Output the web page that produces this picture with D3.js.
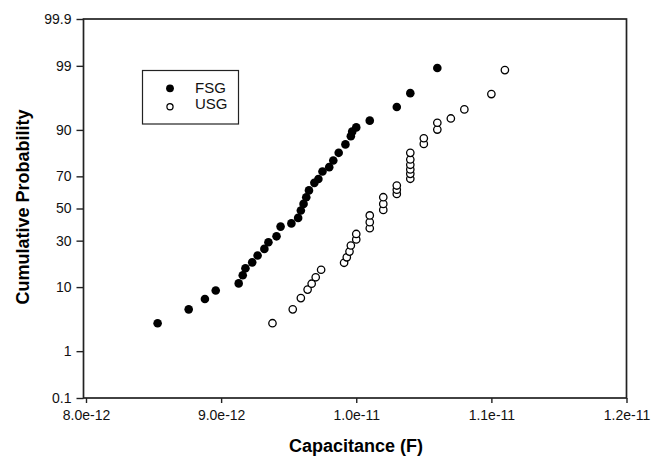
<!DOCTYPE html>
<html>
<head>
<meta charset="utf-8">
<script src="https://cdn.jsdelivr.net/npm/d3@7"></script>
<style>
  body { margin: 0; background: #fff; }
  svg { font-family: "Liberation Sans", Arial, sans-serif; }
</style>
</head>
<body>
<div id="chart"></div>
<script>
// capacitance (F) and cumulative probability (%)
const fsgCap = [8.53e-12, 8.76e-12, 8.88e-12, 8.96e-12, 9.13e-12, 9.16e-12, 9.18e-12, 9.23e-12, 9.27e-12,
  9.32e-12, 9.35e-12, 9.41e-12, 9.44e-12, 9.52e-12, 9.57e-12, 9.59e-12, 9.61e-12, 9.63e-12, 9.65e-12,
  9.69e-12, 9.72e-12, 9.75e-12, 9.80e-12, 9.83e-12, 9.87e-12, 9.92e-12, 9.96e-12, 9.97e-12, 1.00e-11,
  1.01e-11, 1.03e-11, 1.04e-11, 1.06e-11];
const fsgProb = [3.07, 5.0, 7.0, 9.05, 11.1, 13.8, 16.5, 19.0, 22.2,
  25.5, 29.1, 32.5, 38.4, 40.4, 43.9, 48.7, 53.0, 57.3, 61.6,
  66.2, 68.5, 72.7, 75.0, 78.3, 81.8, 85.2, 88.1, 89.5, 90.7,
  92.4, 95.1, 97.0, 98.9];

const usgCap = [9.38e-12, 9.53e-12, 9.59e-12, 9.64e-12, 9.67e-12, 9.70e-12, 9.74e-12,
  9.91e-12, 9.93e-12, 9.95e-12, 9.96e-12, 1.00e-11, 1.00e-11,
  1.01e-11, 1.01e-11, 1.01e-11, 1.02e-11, 1.02e-11, 1.02e-11, 1.03e-11, 1.03e-11, 1.03e-11,
  1.04e-11, 1.04e-11, 1.04e-11, 1.04e-11, 1.04e-11, 1.04e-11,
  1.05e-11, 1.05e-11, 1.06e-11, 1.06e-11, 1.07e-11, 1.08e-11, 1.10e-11, 1.11e-11];
const usgProb = [3.07, 5.0, 7.2, 9.3, 11.0, 13.1, 15.9,
  18.8, 21.3, 24.1, 27.3, 30.7, 33.9,
  37.4, 41.2, 45.5, 49.1, 53.0, 57.3, 59.4, 62.0, 64.6,
  68.6, 71.4, 73.8, 76.2, 78.8, 81.8,
  85.4, 87.4, 90.1, 91.9, 92.9, 94.7, 96.9, 98.8];

const yTicks = [0.1, 1, 10, 30, 50, 70, 90, 99, 99.9];
const yTickLabels = ["0.1", "1", "10", "30", "50", "70", "90", "99", "99.9"];
const xTicks = [8e-12, 9e-12, 1e-11, 1.1e-11, 1.2e-11];
const xTickLabels = ["8.0e-12", "9.0e-12", "1.0e-11", "1.1e-11", "1.2e-11"];

const W = 664, H = 457;
const plotL = 83.5, plotR = 626.5, plotT = 19, plotB = 398;

// inverse normal CDF (Acklam) for the probability axis
function probit(p) {
  const a = [-39.69683028665376, 220.9460984245205, -275.9285104469687, 138.3577518672690, -30.66479806614716, 2.506628277459239];
  const b = [-54.47609879822406, 161.5858368580409, -155.6989798598866, 66.80131188771972, -13.28068155288572];
  const c = [-0.007784894002430293, -0.3223964580411365, -2.400758277161838, -2.549732539343734, 4.374664141464968, 2.938163982698783];
  const d = [0.007784695709041462, 0.3224671290700398, 2.445134137142996, 3.754408661907416];
  const pl = 0.02425;
  let q, r;
  if (p < pl) {
    q = Math.sqrt(-2 * Math.log(p));
    return (((((c[0]*q+c[1])*q+c[2])*q+c[3])*q+c[4])*q+c[5]) / ((((d[0]*q+d[1])*q+d[2])*q+d[3])*q+1);
  }
  if (p > 1 - pl) {
    q = Math.sqrt(-2 * Math.log(1 - p));
    return -(((((c[0]*q+c[1])*q+c[2])*q+c[3])*q+c[4])*q+c[5]) / ((((d[0]*q+d[1])*q+d[2])*q+d[3])*q+1);
  }
  q = p - 0.5; r = q * q;
  return (((((a[0]*r+a[1])*r+a[2])*r+a[3])*r+a[4])*r+a[5])*q / (((((b[0]*r+b[1])*r+b[2])*r+b[3])*r+b[4])*r+1);
}

const svg = d3.select("#chart").append("svg")
  .attr("width", W).attr("height", H);

const x = d3.scaleLinear().domain([8e-12, 1.2e-11]).range([86, plotR]);
const z = d3.scaleLinear().domain([probit(0.001), probit(0.999)]).range([plotB, plotT]);
const y = v => z(probit(v / 100));

// axes
const yAxis = svg.append("g")
  .attr("transform", `translate(${plotL},0)`)
  .call(d3.axisLeft(z)
    .tickValues(yTicks.map(v => probit(v / 100)))
    .tickFormat((d, i) => yTickLabels[i])
    .tickSize(7).tickPadding(5).tickSizeOuter(0));

const xAxis = svg.append("g")
  .attr("transform", `translate(0,${plotB})`)
  .call(d3.axisBottom(x)
    .tickValues(xTicks)
    .tickFormat((d, i) => xTickLabels[i])
    .tickSize(5).tickPadding(7).tickSizeOuter(0));

[yAxis, xAxis].forEach(g => {
  g.select(".domain").remove();
  g.selectAll(".tick line").attr("stroke", "#222").attr("stroke-width", 1.4);
  g.selectAll(".tick text").attr("fill", "#111")
    .style("font-family", "'Liberation Sans', Arial, sans-serif").style("font-size", "14px");
});

// frame
svg.append("rect")
  .attr("x", plotL).attr("y", plotT)
  .attr("width", plotR - plotL).attr("height", plotB - plotT)
  .attr("fill", "none").attr("stroke", "#222").attr("stroke-width", 1.7);

// points
const fsg = fsgCap.map((c, i) => ({ c, p: fsgProb[i] }));
const usg = usgCap.map((c, i) => ({ c, p: usgProb[i] }));

svg.append("g").selectAll("circle").data(usg).enter()
  .append("circle")
  .attr("cx", d => x(d.c)).attr("cy", d => y(d.p)).attr("r", 3.7)
  .attr("fill", "#fff").attr("stroke", "#000").attr("stroke-width", 1.3);

svg.append("g").selectAll("circle").data(fsg).enter()
  .append("circle")
  .attr("cx", d => x(d.c)).attr("cy", d => y(d.p)).attr("r", 4.3)
  .attr("fill", "#000");

// legend
const lg = svg.append("g");
lg.append("rect").attr("x", 142.5).attr("y", 70.5).attr("width", 96).attr("height", 53.5)
  .attr("fill", "#fff").attr("stroke", "#222").attr("stroke-width", 1.2);
lg.append("circle").attr("cx", 170).attr("cy", 88.3).attr("r", 3.9).attr("fill", "#000");
lg.append("circle").attr("cx", 170).attr("cy", 106.7).attr("r", 3.1)
  .attr("fill", "#fff").attr("stroke", "#000").attr("stroke-width", 1.2);
lg.append("text").attr("x", 195).attr("y", 92.7).text("FSG")
  .style("font-size", "15px").attr("fill", "#111");
lg.append("text").attr("x", 195).attr("y", 109.3).text("USG")
  .style("font-size", "15px").attr("fill", "#111");

// titles
svg.append("text")
  .attr("x", 356).attr("y", 452)
  .attr("text-anchor", "middle")
  .style("font-size", "18px").style("font-weight", "bold")
  .text("Capacitance (F)");

svg.append("text")
  .attr("transform", "translate(28.5,207) rotate(-90)")
  .attr("text-anchor", "middle")
  .style("font-size", "18px").style("font-weight", "bold")
  .text("Cumulative Probability");
</script>
</body>
</html>
